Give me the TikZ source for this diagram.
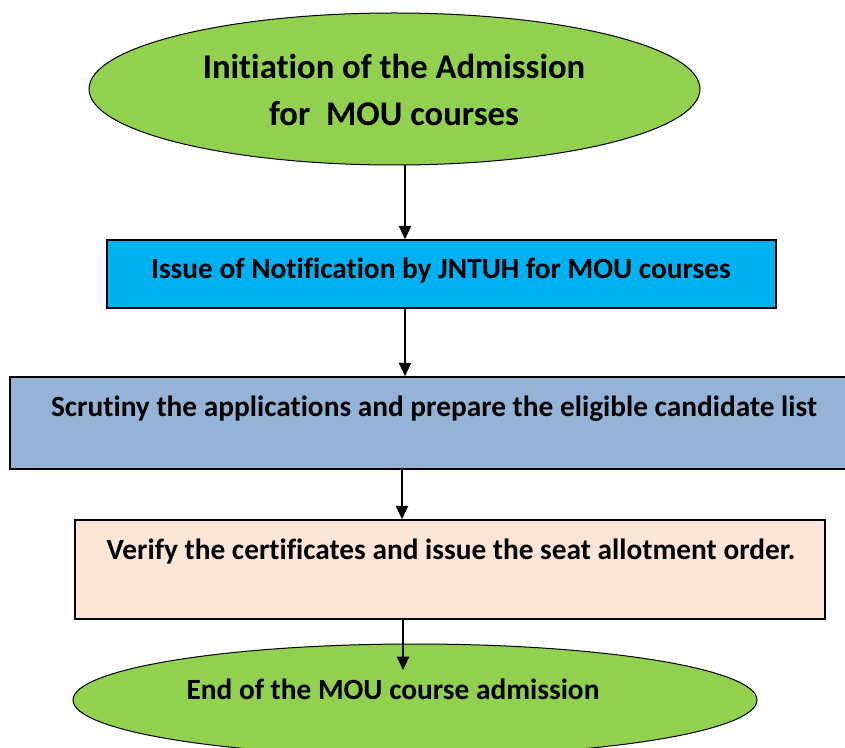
\documentclass[tikz,border=0pt]{standalone}
\usepackage{fontspec}
\setmainfont{Carlito}[Ligatures=NoCommon]
\usetikzlibrary{arrows.meta,shapes.geometric}

\definecolor{ovalgreen}{RGB}{146,208,80}
\definecolor{notifblue}{RGB}{0,176,240}
\definecolor{scrutblue}{RGB}{149,179,215}
\definecolor{verifypeach}{RGB}{251,229,214}

\tikzset{every picture/.style={line width=0.75pt}}
\tikzset{
  oval/.style={ellipse, draw=black, fill=ovalgreen, inner sep=0pt},
  stepbox/.style={rectangle, draw=black, line width=1.1pt, inner sep=0pt},
  flowarrow/.style={-{Triangle[width=9pt,length=10pt]}, line width=1.5pt},
  boxtext/.style={inner sep=0.75pt, font=\fontsize{22}{26}\selectfont\bfseries}
}

\begin{document}
\begin{tikzpicture}[x=0.75pt,y=0.75pt,yscale=-1,xscale=1]
\useasboundingbox (0,0) rectangle (845,748);

%Shape: Ellipse [start]
\node [oval, minimum width=458.25pt, minimum height=114pt] (init) at (394.5,89) {};
%Shape: Rectangle [notification]
\node [stepbox, fill=notifblue, minimum width=501.75pt, minimum height=51pt] (notif) at (441.5,274) {};
%Shape: Rectangle [scrutiny]
\node [stepbox, fill=scrutblue, minimum width=630pt, minimum height=69pt] (scrut) at (430,423) {};
%Shape: Rectangle [verify]
\node [stepbox, fill=verifypeach, minimum width=562.5pt, minimum height=74.25pt] (verify) at (450,569.5) {};
%Shape: Ellipse [end]
\node [oval, minimum width=513pt, minimum height=84pt] (finish) at (415,700) {};

%Straight Lines
\coordinate (a1) at (405,0);
\coordinate (a3) at (402,0);
\coordinate (a4) at (403,0);
\coordinate (tip) at (403,670);
\draw [flowarrow] (init.south -| a1) -- (notif.north -| a1);
\draw [flowarrow] (notif.south -| a1) -- (scrut.north -| a1);
\draw [flowarrow] (scrut.south -| a3) -- (verify.north -| a3);
\draw [flowarrow] (verify.south -| a4) -- (tip);

% Text Node
\node [boxtext, font=\fontsize{26}{35.25}\selectfont\bfseries, align=center] (inittext) at (394,90) {Initiation of the Admission\\for\ \ MOU courses};
% Text Node
\node [boxtext] (notiftext) at (441,271) {Issue of Notification by JNTUH for MOU courses};
% Text Node
\node [boxtext] (scruttext) at (434,409) {Scrutiny the applications and prepare the eligible candidate list};
% Text Node
\node [boxtext] (verifytext) at (451,552) {Verify the certificates and issue the seat allotment order.};
% Text Node
\node [boxtext] (finishtext) at (393,689) {End of the MOU course admission};

\end{tikzpicture}
\end{document}
